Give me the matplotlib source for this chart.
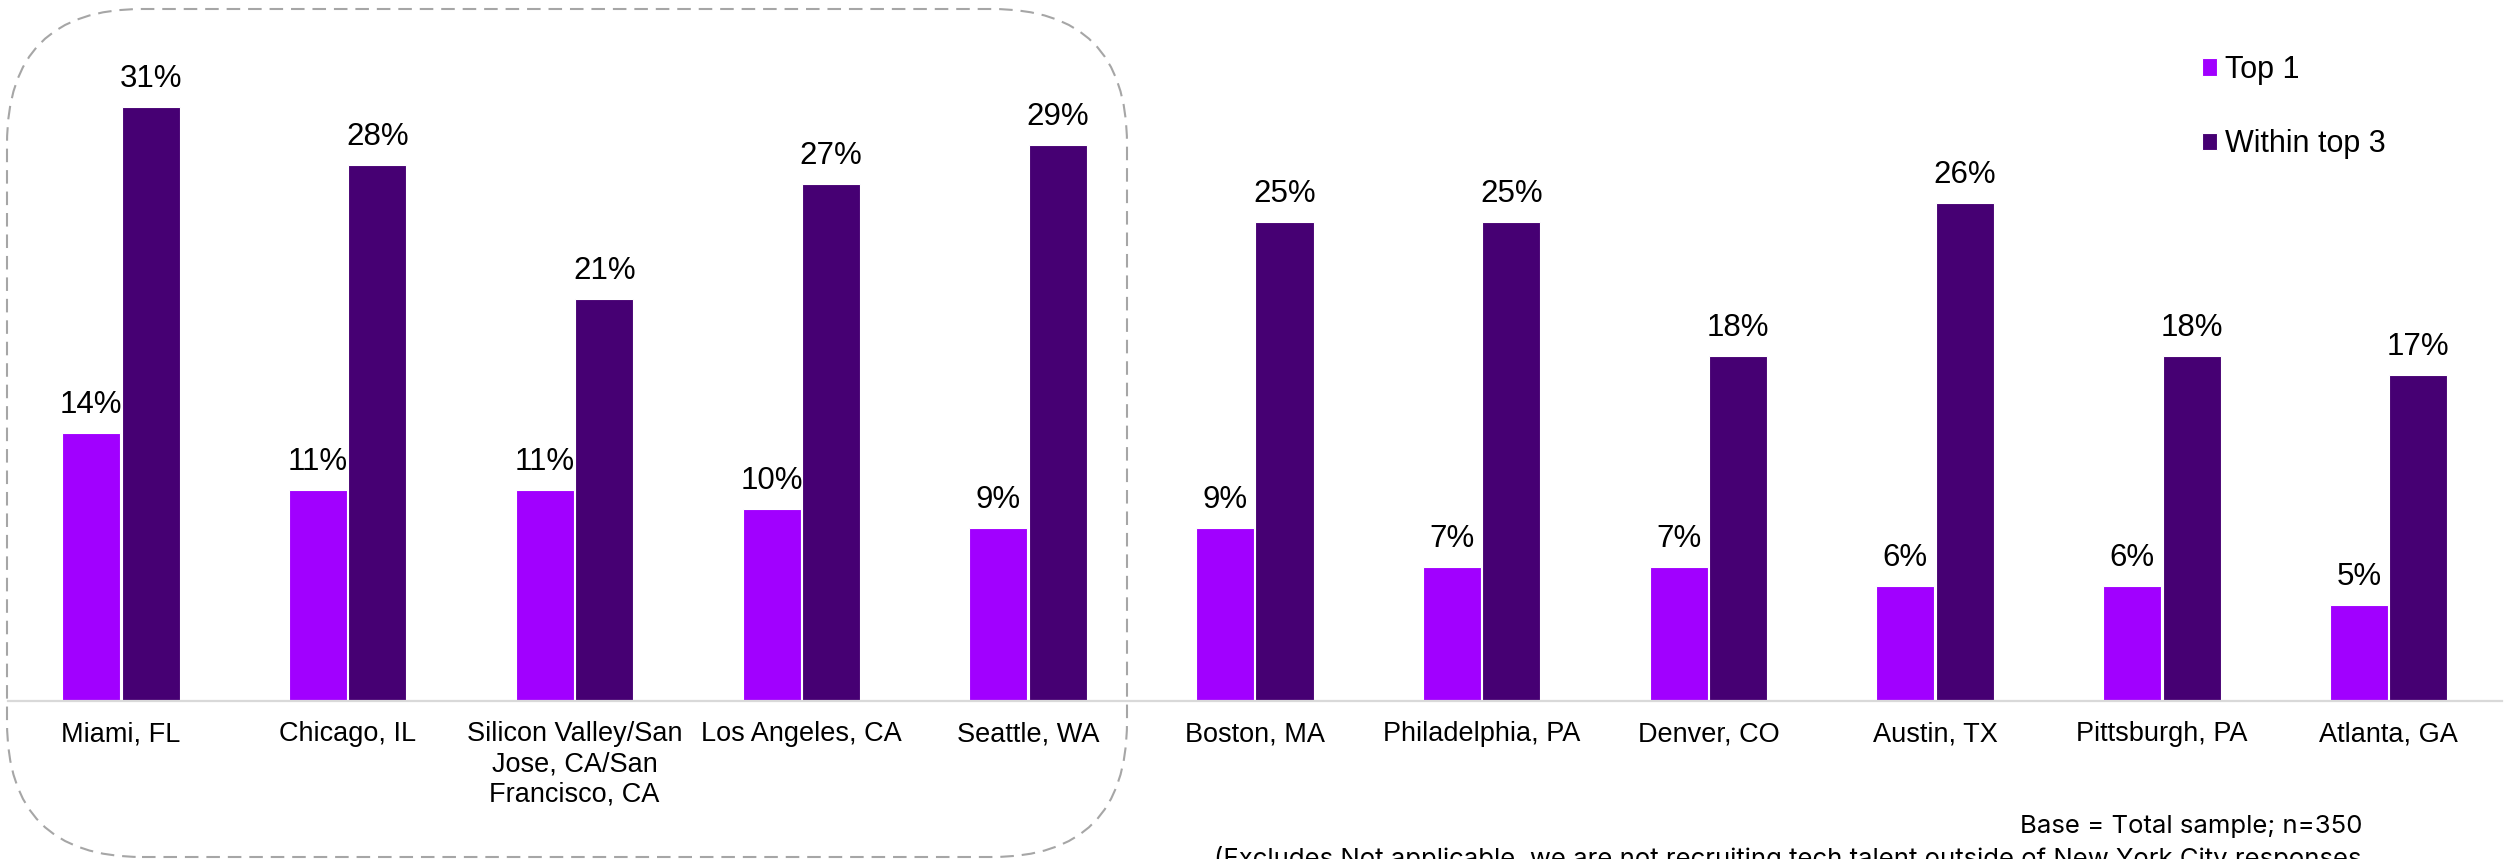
import matplotlib
matplotlib.use("Agg")
import matplotlib.pyplot as plt
import numpy as np
from matplotlib.patches import FancyBboxPatch
from matplotlib.transforms import IdentityTransform

# Preferred tech-talent cities
cities = [
    "Miami, FL", "Chicago, IL", "Silicon Valley/San\nJose, CA/San\nFrancisco, CA",
    "Los Angeles, CA", "Seattle, WA", "Boston, MA", "Philadelphia, PA",
    "Denver, CO", "Austin, TX", "Pittsburgh, PA", "Atlanta, GA",
]
top1 = [14, 11, 11, 10, 9, 9, 7, 7, 6, 6, 5]
top3 = [31, 28, 21, 27, 29, 25, 25, 18, 26, 18, 17]
series_names = ["Top 1", "Within top 3"]
footnote_lines = [
    "Base = Total sample; n=350",
    "(Excludes Not applicable, we are not recruiting tech talent outside of New York City responses",
]

COL_TOP1 = "#A100FF"
COL_TOP3 = "#460073"

W, H, DPI = 2504, 859, 100
plt.rcParams["font.family"] = ["Liberation Sans", "DejaVu Sans"]
fig = plt.figure(figsize=(W / DPI, H / DPI), dpi=DPI)
fig.patch.set_facecolor("white")

# plot area in pixels
left_px, right_px = 7.6, 2502.0
base_px = 700.5
ax = fig.add_axes([left_px / W, (H - base_px) / H, (right_px - left_px) / W, base_px / H])
ax.set_xlim(-0.5, len(cities) - 0.5)
ax.set_ylim(0, base_px / 19.14)

x = np.arange(len(cities))
bw = 0.256
off = 0.131
b1 = ax.bar(x - off, top1, width=bw, color=COL_TOP1, edgecolor="white", linewidth=0.8,
            label=series_names[0])
b3 = ax.bar(x + off, top3, width=bw, color=COL_TOP3, edgecolor="white", linewidth=0.8,
            label=series_names[1])

for xs, vals in ((x - off, top1), (x + off, top3)):
    for xi, v in zip(xs, vals):
        ax.annotate(f"{v}%", (xi, v), xytext=(0, 14.4), textcoords="offset points",
                    ha="center", va="baseline", fontsize=22.5, color="black")

for s in ("top", "right", "left"):
    ax.spines[s].set_visible(False)
ax.spines["bottom"].set_color("#d9d9d9")
ax.spines["bottom"].set_linewidth(1.6)
ax.set_yticks([])
ax.set_xticks(x)
ax.set_xticklabels(cities, fontsize=19.5, linespacing=1.2)
ax.tick_params(axis="x", length=0, pad=15, colors="black")
ax.patch.set_visible(False)

leg = fig.legend(handles=[b1, b3], labels=series_names, loc="upper left",
                 bbox_to_anchor=(2202 / W, 1 - 55 / H), frameon=False,
                 fontsize=22, handlelength=0.5, handleheight=0.5,
                 handletextpad=0.25, labelspacing=1.45, borderpad=0,
                 borderaxespad=0)

# dashed rounded frame around the first five cities
frame = FancyBboxPatch((7, H - 857), 1120, 848,
                       boxstyle="round,pad=0,rounding_size=135",
                       transform=IdentityTransform(), fill=False,
                       edgecolor="#a6a6a6", linewidth=1.5,
                       linestyle=(0, (6.5, 3.8)), zorder=5)
fig.patches.append(frame)

# footnote, right-aligned; the second line runs off the bottom edge
for i, line in enumerate(footnote_lines):
    fig.text(2362 / W, 1 - (833 + 33 * i) / H, line,
             ha="right", va="baseline", fontsize=18.5, family="Inter",
             color="black")

fig.savefig("out.png", dpi=DPI, facecolor="white")
